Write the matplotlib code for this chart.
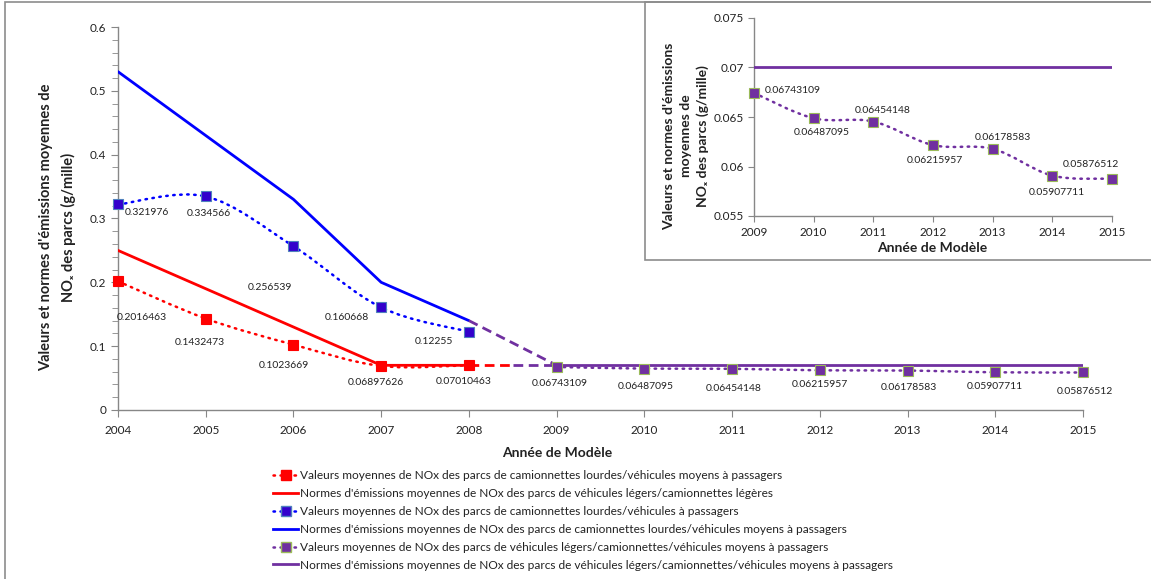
import matplotlib
matplotlib.use("Agg")
import matplotlib.pyplot as plt
import numpy as np
from matplotlib.path import Path
from matplotlib.patches import PathPatch, Rectangle
from matplotlib.lines import Line2D
from matplotlib.ticker import MultipleLocator, FuncFormatter

plt.rcParams['font.family'] = ['Lato', 'DejaVu Sans']

# ---------------- data ----------------
years_a = [2004, 2005, 2006, 2007, 2008]
years_b = [2009, 2010, 2011, 2012, 2013, 2014, 2015]
red_values = [0.2016463, 0.1432473, 0.1023669, 0.06897626, 0.07010463]
red_norms = [0.25, 0.19, 0.13, 0.07, 0.07]
blue_values = [0.321976, 0.334566, 0.256539, 0.160668, 0.12255]
blue_norms = [0.53, 0.43, 0.33, 0.20, 0.14]
purple_values = [0.06743109, 0.06487095, 0.06454148, 0.06215957, 0.06178583, 0.05907711, 0.05876512]
purple_norms = [0.07, 0.07, 0.07, 0.07, 0.07, 0.07, 0.07]
x_ticks = list(range(2004, 2016))

labels = [
    "Valeurs moyennes de NOx des parcs de camionnettes lourdes/véhicules moyens à passagers",
    "Normes d'émissions moyennes de NOx des parcs de véhicules légers/camionnettes légères",
    "Valeurs moyennes de NOx des parcs de camionnettes lourdes/véhicules à passagers",
    "Normes d'émissions moyennes de NOx des parcs de camionnettes lourdes/véhicules moyens à passagers",
    "Valeurs moyennes de NOx des parcs de véhicules légers/camionnettes/véhicules moyens à passagers",
    "Normes d'émissions moyennes de NOx des parcs de véhicules légers/camionnettes/véhicules moyens à passagers",
]

# label offsets in points (display detail only)
red_off = [(17, -26), (-4, -17), (-7, -15), (-4, -12), (-4, -12)]
blue_off = [(21, -6), (2, -12), (-17, -30), (-25, -7), (-25, -7)]
purple_off = [(2, -12), (1, -13), (1, -14), (0, -10), (1, -12), (0, -10), (1, -14)]
inset_off = [(28, 2), (6, -10), (7, 8), (1, -11), (7, 8), (3, -12), (-15, 10)]

RED = '#FF0000'
BLUE = '#0000FF'
BLUE_M = '#3300CC'
BLUE_E = '#4F81BD'
PURPLE = '#7030A0'
PURPLE_E = '#9BBB59'
GREY = '#878787'
TXT = '#222222'

W, H = 1151, 579
fig = plt.figure(figsize=(W / 100, H / 100), dpi=100)


def smooth_patch(ax, xs, ys, color, lw, zorder=3):
    P = np.column_stack([xs, ys]).astype(float)
    n = len(P)
    verts = [P[0]]
    codes = [Path.MOVETO]
    for i in range(n - 1):
        p0 = P[i - 1] if i > 0 else P[i]
        p1 = P[i]
        p2 = P[i + 1]
        p3 = P[i + 2] if i + 2 < n else P[i + 1]
        c1 = p1 + (p2 - p0) / 6.0
        c2 = p2 - (p3 - p1) / 6.0
        verts += [c1, c2, p2]
        codes += [Path.CURVE4] * 3
    patch = PathPatch(Path(verts, codes), fill=False, edgecolor=color, lw=lw,
                      linestyle=(0, (0.6, 2.2)), capstyle='round', zorder=zorder)
    ax.add_patch(patch)


def style_axes(ax):
    for s in ['top', 'right']:
        ax.spines[s].set_visible(False)
    for s in ['left', 'bottom']:
        ax.spines[s].set_color(GREY)
        ax.spines[s].set_linewidth(1.0)
    ax.tick_params(axis='both', which='both', color=GREY, labelcolor=TXT, labelsize=8.5)
    ax.yaxis.set_major_formatter(FuncFormatter(lambda v, p: ('%g' % round(v, 4))))


# ---------------- main axes ----------------
ax = fig.add_axes([118 / W, 1 - 410 / H, (1083 - 118) / W, (410 - 27) / H])
style_axes(ax)
ax.set_xlim(2004, 2015)
ax.set_ylim(0, 0.6)
ax.set_xticks(x_ticks)
ax.yaxis.set_major_locator(MultipleLocator(0.1))
ax.yaxis.set_minor_locator(MultipleLocator(0.02))
ax.tick_params(axis='y', which='major', length=5, direction='out')
ax.tick_params(axis='y', which='minor', length=4, direction='out')
ax.tick_params(axis='x', which='major', length=5, direction='out', pad=6)

# norm lines
ax.plot(years_a, red_norms, color=RED, lw=2.0, zorder=4, solid_capstyle='round')
ax.plot(years_a, blue_norms, color=BLUE, lw=2.0, zorder=4, solid_capstyle='round')
ax.plot(years_b, purple_norms, color=PURPLE, lw=2.0, zorder=4)
# dashed connectors 2008 -> 2009
mid = (years_a[-1] + years_b[0]) / 2.0
ax.plot([years_a[-1], mid], [red_norms[-1], red_norms[-1]], color=RED, lw=2.0,
        dashes=(3.5, 2.0), zorder=4)
ax.plot([mid, years_b[0]], [red_norms[-1], purple_norms[0]], color=PURPLE, lw=2.0,
        dashes=(3.5, 2.0), zorder=4)
ax.plot([years_a[-1], years_b[0]], [blue_norms[-1], purple_norms[0]], color=PURPLE, lw=2.0,
        dashes=(3.5, 2.0), zorder=4)

# value series (smoothed dotted)
smooth_patch(ax, years_a, red_values, RED, 1.8)
smooth_patch(ax, years_a, blue_values, BLUE, 1.8)
smooth_patch(ax, years_b, purple_values, PURPLE, 1.8)
ax.plot(years_a, red_values, ls='none', marker='s', ms=7, mfc=RED, mec=RED, mew=0.8, zorder=5,
        clip_on=False)
ax.plot(years_a, blue_values, ls='none', marker='s', ms=7, mfc=BLUE_M, mec=BLUE_E, mew=0.8, zorder=5,
        clip_on=False)
ax.plot(years_b, purple_values, ls='none', marker='s', ms=7, mfc=PURPLE, mec=PURPLE_E, mew=0.8, zorder=5,
        clip_on=False)

for xs, vs, offs in [(years_a, red_values, red_off), (years_a, blue_values, blue_off),
                     (years_b, purple_values, purple_off)]:
    for x, v, o in zip(xs, vs, offs):
        ax.annotate(str(v), (x, v), xytext=o, textcoords='offset points', ha='center',
                    va='center', fontsize=7.5, color=TXT, zorder=6)

fig.text(557 / W, 1 - 453 / H, "Année de Modèle", ha='center', va='center',
         fontsize=10, fontweight='bold', color=TXT)
fig.text(58 / W, 1 - 227 / H,
         "Valeurs et normes d'émissions moyennes de\nNOₓ des parcs (g/mille)",
         rotation=90, ha='center', va='center', multialignment='center',
         fontsize=10.5, fontweight='bold', color=TXT, linespacing=1.65)

# ---------------- inset frame ----------------
fig.patches.append(Rectangle((645 / W, 1 - 260 / H), 1.0, 258 / H, transform=fig.transFigure,
                             facecolor='white', edgecolor='#8C8C8C', lw=1.2, zorder=1))
# outer frame (left and top visible)
fig.patches.append(Rectangle((5 / W, -0.5), 2.0, 0.5 + 1 - 2 / H, transform=fig.transFigure,
                             facecolor='none', edgecolor='#8C8C8C', lw=1.2, zorder=10))

# ---------------- inset axes ----------------
ax2 = fig.add_axes([754 / W, 1 - 216 / H, (1112 - 754) / W, (216 - 18) / H], zorder=2)
ax2.patch.set_alpha(0)
style_axes(ax2)
ax2.set_xlim(2009, 2015)
ax2.set_ylim(0.055, 0.075)
ax2.set_xticks(years_b)
ax2.yaxis.set_major_locator(MultipleLocator(0.005))
ax2.tick_params(axis='y', which='major', length=4, direction='out')
ax2.tick_params(axis='x', which='major', length=4, direction='out', pad=4)
ax2.plot(years_b, purple_norms, color=PURPLE, lw=2.0, zorder=4)
smooth_patch(ax2, years_b, purple_values, PURPLE, 1.8)
ax2.plot(years_b, purple_values, ls='none', marker='s', ms=7.5, mfc=PURPLE, mec=PURPLE_E, mew=0.8,
         zorder=5, clip_on=False)
for x, v, o in zip(years_b, purple_values, inset_off):
    ax2.annotate(str(v), (x, v), xytext=o, textcoords='offset points', ha='center', va='center',
                 fontsize=7.5, color=TXT, zorder=6)
fig.text(932 / W, 1 - 248 / H, "Année de Modèle", ha='center', va='center',
         fontsize=10, fontweight='bold', color=TXT, zorder=3)
fig.text(686 / W, 1 - 136 / H,
         "Valeurs et normes d'émissions\nmoyennes de\nNOₓ des parcs (g/mille)",
         rotation=90, ha='center', va='center', multialignment='center',
         fontsize=10, fontweight='bold', color=TXT, linespacing=1.45, zorder=3)

# ---------------- legend ----------------
handles = [
    Line2D([], [], color=RED, lw=1.8, linestyle=(0, (0.6, 2.2)), dash_capstyle='round',
           marker='s', ms=7, mfc=RED, mec=RED),
    Line2D([], [], color=RED, lw=2.0),
    Line2D([], [], color=BLUE, lw=1.8, linestyle=(0, (0.6, 2.2)), dash_capstyle='round',
           marker='s', ms=7, mfc=BLUE_M, mec=BLUE_E),
    Line2D([], [], color=BLUE, lw=2.0),
    Line2D([], [], color=PURPLE, lw=1.8, linestyle=(0, (0.6, 2.2)), dash_capstyle='round',
           marker='s', ms=7, mfc=PURPLE, mec=PURPLE_E),
    Line2D([], [], color=PURPLE, lw=2.0),
]
leg = fig.legend(handles, labels, loc='upper left', bbox_to_anchor=(273 / W, 1 - 470 / H),
                 frameon=False, fontsize=8.6, handlelength=2.1, handletextpad=0.15,
                 labelspacing=0.58, borderaxespad=0, borderpad=0)
for t in leg.get_texts():
    t.set_color(TXT)

fig.savefig("out.png", dpi=100)
